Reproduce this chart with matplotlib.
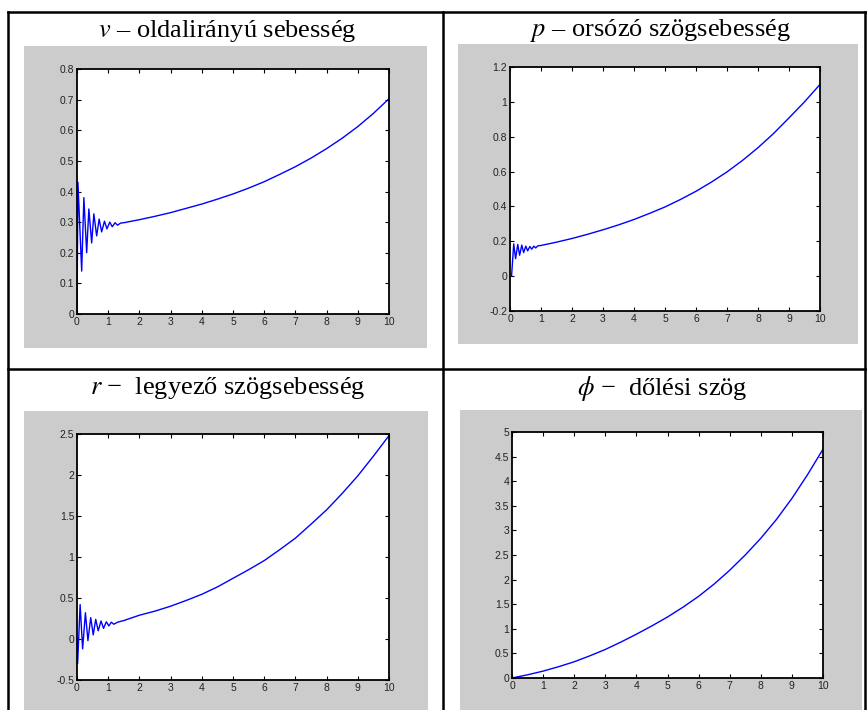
import matplotlib
matplotlib.use("Agg")
import matplotlib.pyplot as plt
from matplotlib.patches import Rectangle
from matplotlib.lines import Line2D

plt.rcParams['mathtext.fontset'] = 'stix'

W, H = 867, 710

# v - lateral velocity
v_t = [0, 0.03, 0.15, 0.22, 0.31, 0.38, 0.47, 0.54, 0.63, 0.71, 0.79, 0.88, 0.96,
       1.05, 1.13, 1.22, 1.3, 1.4, 1.5, 2, 2.5, 3, 3.5, 4, 4.5, 5, 5.5, 6, 6.5,
       7, 7.5, 8, 8.5, 9, 9.5, 10]
v_y = [0, 0.43, 0.14, 0.38, 0.20, 0.343, 0.232, 0.327, 0.255, 0.31, 0.268, 0.303, 0.278,
       0.30, 0.285, 0.298, 0.29, 0.297, 0.298, 0.308, 0.319, 0.331, 0.345, 0.359, 0.375,
       0.392, 0.411, 0.432, 0.456, 0.481, 0.509, 0.540, 0.574, 0.612, 0.655, 0.703]

# p - roll rate
p_t = [0, 0.05, 0.12, 0.18, 0.25, 0.31, 0.38, 0.44, 0.51, 0.57, 0.64, 0.70, 0.77,
       0.83, 0.9, 1.0, 1.5, 2, 2.5, 3, 3.5, 4, 4.5, 5, 5.5, 6, 6.5, 7, 7.5, 8,
       8.5, 9, 9.5, 10]
p_y = [0, 0.0, 0.185, 0.10, 0.182, 0.12, 0.178, 0.135, 0.172, 0.145, 0.17, 0.155, 0.172,
       0.162, 0.174, 0.176, 0.195, 0.216, 0.24, 0.266, 0.294, 0.325, 0.36, 0.397, 0.44,
       0.487, 0.54, 0.598, 0.664, 0.737, 0.818, 0.908, 1.0, 1.10]

# r - yaw rate
r_t = [0, 0.02, 0.1, 0.18, 0.27, 0.35, 0.44, 0.52, 0.6, 0.68, 0.77, 0.85, 0.94,
       1.02, 1.1, 1.18, 1.3, 1.5, 2, 2.5, 3, 3.5, 4, 4.5, 5, 5.5, 6, 6.5, 7,
       7.5, 8, 8.5, 9, 9.5, 10]
r_y = [0, -0.3, 0.42, -0.12, 0.32, -0.02, 0.26, 0.05, 0.24, 0.10, 0.22, 0.13, 0.21,
       0.16, 0.205, 0.18, 0.205, 0.225, 0.29, 0.34, 0.40, 0.47, 0.545, 0.635, 0.74,
       0.845, 0.956, 1.09, 1.23, 1.40, 1.575, 1.775, 1.99, 2.23, 2.48]

# phi - bank angle
phi_t = [0, 0.5, 1, 1.5, 2, 2.5, 3, 3.5, 4, 4.5, 5, 5.5, 6, 6.5, 7, 7.5, 8,
         8.5, 9, 9.5, 10]
phi_y = [0, 0.065, 0.14, 0.23, 0.33, 0.45, 0.58, 0.73, 0.89, 1.06, 1.24, 1.44, 1.66,
         1.91, 2.19, 2.5, 2.84, 3.22, 3.65, 4.13, 4.65]

x_ticks = list(range(11))
v_ticks = [0, 0.1, 0.2, 0.3, 0.4, 0.5, 0.6, 0.7, 0.8]
p_ticks = [-0.2, 0, 0.2, 0.4, 0.6, 0.8, 1, 1.2]
r_ticks = [-0.5, 0, 0.5, 1, 1.5, 2, 2.5]
phi_ticks = [0, 0.5, 1, 1.5, 2, 2.5, 3, 3.5, 4, 4.5, 5]

titles = ["$v$ – oldalirányú sebesség",
          "$p$ – orsózó szögsebesség",
          "$r$ −  legyező szögsebesség",
          r"$\phi$ −  dőlési szög"]


def fx(x):
    return x / W


def fy(y):
    return 1 - y / H


fig = plt.figure(figsize=(W / 100, H / 100), dpi=100)

# table lines
for x0, y0, x1, y1 in [(8, 12, 866, 12), (8, 12, 8, 710), (865, 12, 865, 710),
                       (443, 12, 443, 710), (8, 369, 866, 369)]:
    fig.add_artist(Line2D([fx(x0), fx(x1)], [fy(y0), fy(y1)], color="black",
                          lw=1.8, transform=fig.transFigure))

# gray panels
panels = [(24, 46, 427, 348), (458, 44, 858, 344), (24, 411, 428, 710), (460, 410, 862, 710)]
for x0, y0, x1, y1 in panels:
    fig.add_artist(Rectangle((fx(x0), fy(y1)), fx(x1) - fx(x0), fy(y0) - fy(y1),
                             transform=fig.transFigure, facecolor="#cccccc",
                             edgecolor="none", zorder=-1))

# titles
title_pos = [(227, 37), (660, 36), (228, 394), (662, 395)]
for (tx, ty), s in zip(title_pos, titles):
    fig.text(fx(tx), fy(ty), s, ha="center", va="baseline", fontsize=19,
             family=["Liberation Serif", "DejaVu Serif"])

axes_px = [(77, 69, 389, 314), (510, 67, 820, 311), (77, 434, 389, 680), (512, 432, 823, 678)]
series = [(v_t, v_y, v_ticks), (p_t, p_y, p_ticks), (r_t, r_y, r_ticks), (phi_t, phi_y, phi_ticks)]

for (x0, y0, x1, y1), (t, y, yt) in zip(axes_px, series):
    ax = fig.add_axes([fx(x0), fy(y1), fx(x1) - fx(x0), fy(y0) - fy(y1)])
    ax.plot(t, y, color="#0000ff", lw=1.0)
    ax.set_xlim(0, 10)
    ax.set_ylim(yt[0], yt[-1])
    ax.set_xticks(x_ticks)
    ax.set_xticklabels([f"{v:g}" for v in x_ticks])
    ax.set_yticks(yt)
    ax.set_yticklabels([f"{v:g}" for v in yt])
    ax.tick_params(direction="in", length=3, width=0.8, top=True, right=True,
                   labelsize=7.5, labelcolor="#222222", pad=2)
    for sp in ax.spines.values():
        sp.set_linewidth(1.3)
    for lab in ax.get_xticklabels() + ax.get_yticklabels():
        lab.set_family("Liberation Sans")

fig.savefig("out.png", dpi=100)
